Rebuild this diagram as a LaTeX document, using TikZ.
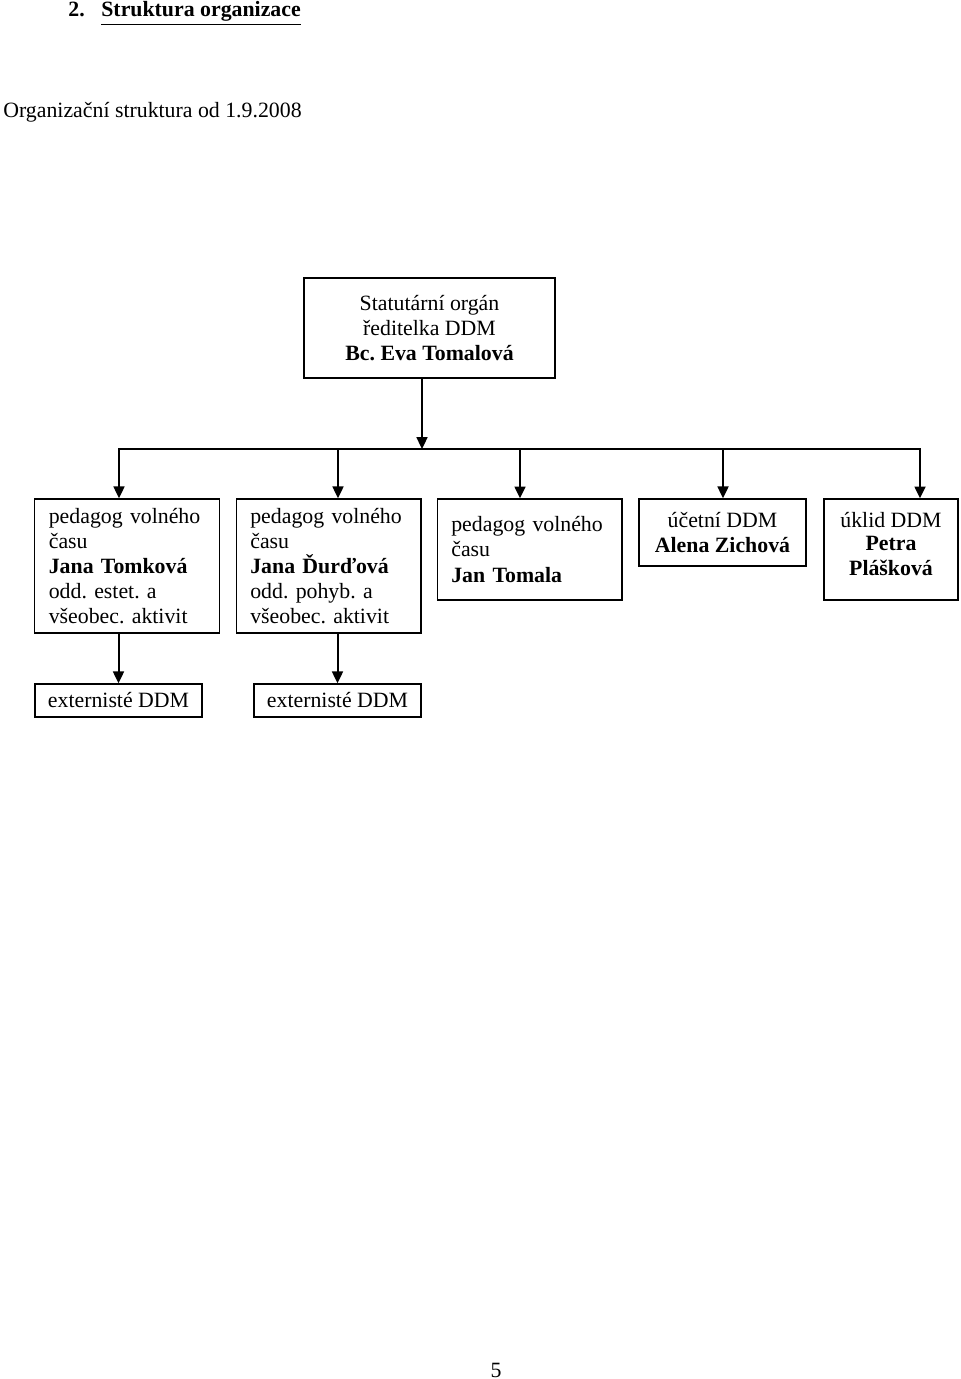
\documentclass[tikz,border=0pt]{standalone}
\usepackage{fontspec}
\setmainfont{Liberation Serif}
\frenchspacing
\usetikzlibrary{arrows.meta}
\tikzstyle{box}=[draw, line width=.8pt, inner ysep=2pt, align=center, font=\fontsize{12pt}{13.8pt}\selectfont]
\tikzstyle{ped}=[box, align=left, text width=86pt, inner xsep=7.75pt, minimum width=101.5pt]
\tikzstyle{arr}=[line width=1.1pt, -{Triangle[length=6.5pt,width=6pt]}]
\newcommand{\boxnode}{\node[box]}

\begin{document}
\begin{tikzpicture}[x=0.55pt,y=-0.55pt]
\useasboundingbox (0,0) rectangle (960,1379);
\node[anchor=base west, inner sep=0pt, font=\fontsize{12pt}{14pt}\selectfont\bfseries] (num) at (68,17) {2.};
\node[anchor=base west, inner sep=0pt, font=\fontsize{12pt}{14pt}\selectfont\bfseries] (head) at (101,17) {\underline{Struktura organizace}};
\node[anchor=base west, inner sep=0pt, font=\fontsize{12pt}{14pt}\selectfont] (sub) at (3,117) {Organizační struktura od 1.9.2008};

\boxnode[minimum width=138pt, minimum height=55pt] (top) at (429.5,328) {Statutární orgán\\ ředitelka DDM\\ \textbf{Bc. Eva Tomalová}};

\node[ped, minimum height=73.7pt] (b1) at (127,566) {pedagog volného\\ času\\ \textbf{Jana Tomková}\\ odd. estet. a\\ všeobec. aktivit};
\node[ped, minimum height=73.7pt] (b2) at (328.5,566) {pedagog volného\\ času\\ \textbf{Jana Ďurďová}\\ odd. pohyb. a\\ všeobec. aktivit};
\node[ped, minimum height=55.5pt] (b3) at (529.5,549.5) {pedagog volného\\ času\\ \textbf{Jan Tomala}\\[-9.4pt]};
\boxnode[minimum width=91.85pt, minimum height=36.85pt] (b4) at (722.5,532.5) {účetní DDM\\ \textbf{Alena Zichová}};
\boxnode[minimum width=73.7pt, minimum height=55.5pt, font=\fontsize{12pt}{13.2pt}\selectfont] (b5) at (891,549.5) {úklid DDM\\ \textbf{Petra}\\ \textbf{Plášková}\\[-6.5pt]};

\boxnode[minimum width=91.85pt, minimum height=18.15pt] (e1) at (118.5,700.5) {externisté DDM};
\boxnode[minimum width=91.85pt, minimum height=18.15pt] (e2) at (337.5,700.5) {externisté DDM};

\node[anchor=base, inner sep=0pt, font=\fontsize{12pt}{14pt}\selectfont] (page) at (496,1377) {5};

% spojnice
\coordinate (t) at (422,449);
\draw[arr] (t |- top.south) -- (t);
\foreach \i/\x in {1/119,2/338,3/520,4/723,5/920}
	\coordinate (d\i) at (\x,449);
\draw[line width=1.1pt, line cap=rect] (d1) -- (d5);
\foreach \i in {1,...,5}
	\draw[arr] (d\i) -- (d\i |- b\i.north);
\draw[arr] (e1 |- b1.south) -- (e1.north);
\draw[arr] (e2 |- b2.south) -- (e2.north);
\end{tikzpicture}
\end{document}
